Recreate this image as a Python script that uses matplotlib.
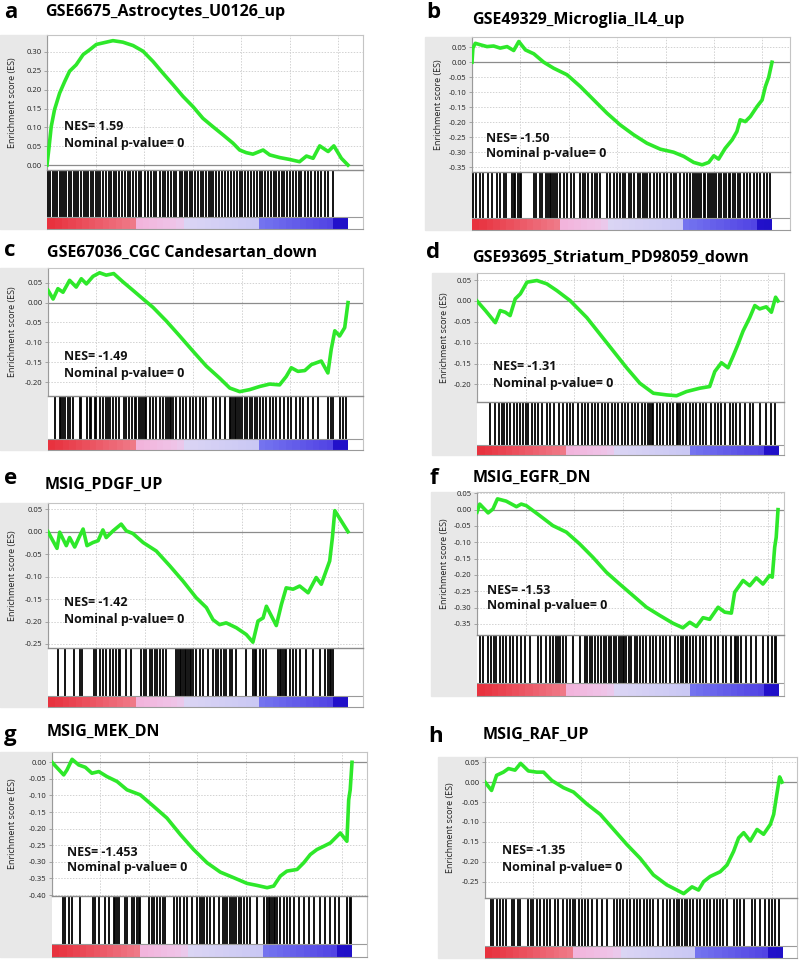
import numpy as np
import matplotlib
matplotlib.use('Agg')
import matplotlib.pyplot as plt
from matplotlib.colors import LinearSegmentedColormap
from matplotlib.patches import Rectangle
from matplotlib.ticker import MultipleLocator, FuncFormatter

W, H = 800, 961
N_GENES = 31000

letters = ['a', 'b', 'c', 'd', 'e', 'f', 'g', 'h']
titles = ['GSE6675_Astrocytes_U0126_up', 'GSE49329_Microglia_IL4_up',
          'GSE67036_CGC Candesartan_down', 'GSE93695_Striatum_PD98059_down',
          'MSIG_PDGF_UP', 'MSIG_EGFR_DN', 'MSIG_MEK_DN', 'MSIG_RAF_UP']
nes = ['1.59', '-1.50', '-1.49', '-1.31', '-1.42', '-1.53', '-1.453', '-1.35']

# running enrichment score: (percent of ranked list, ES)
es_a = [(0, 0.0), (0.7, 0.049), (1.4, 0.102), (2.5, 0.147), (4.2, 0.191), (5.9, 0.222),
        (7.5, 0.249), (9.7, 0.266), (12.0, 0.293), (14.2, 0.306), (16.4, 0.320), (18.6, 0.324),
        (21.9, 0.330), (25.2, 0.326), (28.6, 0.317), (31.9, 0.302), (35.2, 0.275), (38.5, 0.244),
        (41.9, 0.213), (45.2, 0.182), (48.5, 0.155), (51.8, 0.124), (55.1, 0.102), (58.5, 0.080),
        (61.8, 0.058), (64.0, 0.040), (66.2, 0.033), (68.4, 0.029), (71.8, 0.040), (74.0, 0.027),
        (77.3, 0.020), (80.6, 0.015), (83.9, 0.009), (86.2, 0.024), (88.4, 0.018), (90.6, 0.051),
        (93.4, 0.036), (95.3, 0.051), (97.8, 0.018), (100, 0.0)]
es_b = [(0, 0.0), (0.3, 0.047), (1.1, 0.063), (2.8, 0.058), (5.0, 0.052), (7.2, 0.054),
        (9.4, 0.047), (11.7, 0.052), (13.9, 0.039), (15.6, 0.069), (17.8, 0.041), (20.6, 0.028),
        (23.9, 0.0), (27.2, -0.020), (31.7, -0.042), (36.1, -0.081), (40.6, -0.126), (45.0, -0.170),
        (49.4, -0.209), (53.9, -0.242), (58.3, -0.270), (62.8, -0.290), (67.2, -0.300), (70.6, -0.314),
        (73.9, -0.334), (76.7, -0.342), (78.9, -0.334), (80.6, -0.312), (82.2, -0.323), (84.4, -0.287),
        (86.7, -0.259), (88.3, -0.231), (89.4, -0.192), (91.1, -0.198), (92.8, -0.181), (95.0, -0.148),
        (96.7, -0.126), (97.8, -0.081), (98.9, -0.050), (100, 0.0)]
es_c = [(0, 0.031), (1.7, 0.009), (3.3, 0.035), (5.0, 0.026), (7.2, 0.056), (9.4, 0.039),
        (11.1, 0.060), (12.8, 0.047), (15.0, 0.066), (17.2, 0.075), (19.4, 0.069), (21.9, 0.073),
        (25.0, 0.052), (28.3, 0.031), (31.7, 0.009), (35.0, -0.012), (39.4, -0.046), (43.9, -0.084),
        (48.3, -0.122), (52.8, -0.160), (57.2, -0.190), (60.6, -0.215), (63.9, -0.224), (67.2, -0.219),
        (70.6, -0.211), (73.9, -0.205), (77.2, -0.207), (79.4, -0.186), (81.1, -0.164), (83.3, -0.173),
        (85.6, -0.171), (87.8, -0.156), (91.1, -0.147), (93.3, -0.177), (94.4, -0.118), (95.6, -0.071),
        (97.2, -0.084), (98.9, -0.063), (100, 0.0)]
es_d = [(0, 0.0), (2.8, -0.023), (6.1, -0.052), (7.7, -0.023), (9.4, -0.027), (11.0, -0.035),
        (12.7, 0.005), (14.4, 0.017), (16.6, 0.045), (19.9, 0.049), (23.2, 0.041), (26.5, 0.025),
        (30.9, 0.001), (36.5, -0.040), (40.9, -0.080), (45.3, -0.120), (49.7, -0.160), (54.1, -0.197),
        (58.6, -0.221), (63.0, -0.225), (66.3, -0.227), (69.6, -0.217), (74.0, -0.209), (77.3, -0.205),
        (79.0, -0.169), (81.2, -0.148), (83.4, -0.160), (85.1, -0.132), (86.7, -0.104), (88.4, -0.072),
        (90.6, -0.040), (92.3, -0.011), (93.9, -0.019), (96.1, -0.014), (97.8, -0.027), (99.2, 0.009),
        (100, 0.0)]
es_e = [(0, 0.0), (3.0, -0.037), (3.9, -0.001), (6.1, -0.031), (7.2, -0.013), (8.9, -0.034),
        (10.6, -0.009), (11.7, 0.006), (13.0, -0.031), (15.0, -0.024), (16.7, -0.020), (18.3, 0.004),
        (19.4, -0.013), (21.7, 0.002), (24.4, 0.017), (26.1, 0.002), (28.3, -0.004), (31.7, -0.024),
        (36.1, -0.043), (40.6, -0.076), (45.0, -0.110), (49.4, -0.147), (52.8, -0.169), (55.0, -0.196),
        (57.2, -0.207), (59.4, -0.203), (62.8, -0.214), (66.1, -0.229), (68.3, -0.246), (70.0, -0.199),
        (71.7, -0.192), (72.8, -0.166), (76.1, -0.209), (77.8, -0.162), (79.4, -0.125), (81.7, -0.128),
        (83.9, -0.121), (86.7, -0.136), (89.4, -0.102), (91.1, -0.117), (93.9, -0.065), (94.8, -0.013),
        (95.6, 0.047), (100, 0.0)]
es_f = [(0, -0.008), (0.9, 0.017), (3.7, -0.010), (5.3, 0.002), (6.8, 0.033), (9.7, 0.026),
        (13.1, 0.009), (14.7, 0.017), (16.4, 0.012), (20.8, -0.018), (25.2, -0.049), (29.7, -0.069),
        (34.1, -0.105), (38.5, -0.146), (43.0, -0.192), (47.4, -0.228), (51.8, -0.263), (56.3, -0.299),
        (60.7, -0.324), (65.1, -0.348), (68.4, -0.362), (70.7, -0.345), (72.9, -0.358), (75.1, -0.331),
        (77.3, -0.336), (80.1, -0.299), (82.3, -0.314), (84.5, -0.317), (85.6, -0.253), (88.4, -0.217),
        (90.6, -0.233), (92.8, -0.209), (95.0, -0.228), (97.2, -0.202), (98.1, -0.207), (98.9, -0.115),
        (99.4, -0.085), (100, 0.0)]
es_g = [(0, 0.0), (3.9, -0.038), (5.0, -0.023), (6.7, 0.009), (8.9, -0.008), (11.1, -0.015),
        (13.3, -0.033), (15.6, -0.028), (18.3, -0.043), (21.7, -0.058), (25.0, -0.083), (29.4, -0.098),
        (33.9, -0.133), (38.3, -0.168), (42.8, -0.218), (47.2, -0.263), (51.7, -0.303), (56.1, -0.331),
        (60.6, -0.348), (65.0, -0.365), (68.3, -0.371), (71.7, -0.378), (73.9, -0.373), (76.1, -0.343),
        (78.3, -0.328), (81.7, -0.323), (83.9, -0.303), (86.1, -0.278), (88.3, -0.263), (90.6, -0.253),
        (92.8, -0.243), (96.1, -0.213), (98.3, -0.238), (98.9, -0.113), (99.4, -0.083), (100, 0.0)]
es_h = [(0, 0.0), (2.2, -0.021), (3.9, 0.017), (6.2, 0.025), (7.9, 0.034), (10.1, 0.030),
        (12.0, 0.047), (14.6, 0.028), (17.4, 0.025), (19.7, 0.025), (22.5, 0.004), (26.4, -0.014),
        (29.8, -0.025), (34.3, -0.055), (38.8, -0.081), (43.3, -0.119), (47.8, -0.157), (52.2, -0.191),
        (56.7, -0.233), (61.2, -0.258), (64.6, -0.271), (66.9, -0.280), (69.7, -0.263), (71.9, -0.271),
        (73.6, -0.250), (75.8, -0.237), (79.2, -0.225), (81.5, -0.208), (83.7, -0.174), (85.4, -0.140),
        (87.1, -0.127), (89.3, -0.148), (91.6, -0.119), (93.8, -0.131), (96.1, -0.106), (97.2, -0.081),
        (98.1, -0.038), (99.2, 0.013), (100, 0.0)]

# gene set hits (percent of ranked list)
hits_a = [0.3, 1.1, 2.0, 2.5, 3.3, 4.2, 5.0, 5.6, 6.4, 7.2, 7.9, 8.9, 9.5, 10.4, 11.4, 12.2, 12.8,
          13.6, 14.5, 15.3, 16.4, 17.1, 17.7, 18.6, 19.5, 20.5, 21.4, 22.1, 23.0, 23.9, 24.9, 25.8,
          26.9, 27.7, 28.6, 29.7, 30.6, 31.3, 32.7, 33.5, 34.6, 35.4, 36.3, 37.4, 38.5, 39.3, 40.2,
          41.3, 42.1, 43.0, 44.1, 45.0, 45.7, 46.6, 47.4, 48.3, 49.1, 50.2, 51.1, 51.8, 52.7, 53.7,
          54.4, 55.1, 56.2, 57.1, 58.2, 59.0, 60.1, 61.2, 62.1, 63.1, 64.0, 64.9, 65.9, 66.8, 67.9,
          68.8, 69.8, 70.7, 71.5, 72.5, 73.4, 74.3, 75.3, 76.2, 77.1, 78.1, 78.9, 79.8, 80.6, 81.7,
          82.6, 83.6, 84.5, 85.6, 86.7, 87.8, 88.9, 90.0, 91.1, 92.2, 93.4, 95.0]
hits_b = [0.3, 1.4, 2.8, 3.7, 5.2, 6.7, 8.3, 9.4, 10.6, 11.4, 13.3, 13.9, 14.4, 15.2, 15.9, 16.3,
          20.6, 21.4, 22.6, 23.3, 24.8, 25.2, 25.9, 26.3, 27.0, 27.8, 28.3, 29.2, 30.6, 31.7, 33.0,
          33.9, 36.1, 37.0, 37.8, 38.6, 40.0, 40.9, 41.7, 42.8, 45.0, 46.1, 47.2, 48.3, 49.4, 50.3,
          51.1, 52.2, 53.0, 53.9, 55.2, 56.1, 57.0, 57.8, 58.3, 59.2, 60.6, 61.7, 62.8, 63.9, 65.0,
          66.3, 67.2, 68.1, 69.4, 70.8, 71.7, 72.8, 73.7, 74.4, 75.0, 75.6, 76.3, 77.2, 77.8, 78.6,
          79.4, 80.0, 80.6, 81.4, 82.2, 83.0, 83.9, 84.7, 85.6, 86.1, 87.0, 87.8, 88.6, 89.4, 90.6,
          91.7, 92.8, 93.9, 95.0, 96.1, 97.2, 98.3, 99.4]
hits_c = [2.2, 3.9, 4.4, 5.0, 5.6, 6.7, 7.2, 8.3, 10.6, 11.1, 13.0, 13.9, 14.4, 15.6, 16.1, 17.2,
          18.3, 19.2, 20.0, 20.8, 21.7, 22.6, 23.7, 25.2, 26.1, 27.0, 28.1, 28.9, 29.4, 30.3, 31.1,
          31.7, 32.2, 32.8, 33.9, 35.0, 36.1, 37.2, 38.3, 39.4, 40.0, 40.6, 41.1, 41.7, 42.8, 43.9,
          45.0, 46.1, 47.2, 48.3, 49.4, 50.6, 51.7, 52.8, 55.0, 56.1, 57.2, 58.9, 60.6, 61.1, 61.7,
          62.2, 62.8, 63.3, 63.9, 64.8, 65.6, 66.3, 67.2, 68.1, 68.9, 69.7, 70.6, 71.7, 72.8, 73.9,
          75.0, 76.1, 77.2, 78.6, 80.0, 81.1, 82.8, 83.9, 85.0, 86.7, 88.3, 90.0, 93.3, 94.4, 95.0,
          97.2, 98.3, 99.4]
hits_d = [4.2, 6.1, 7.2, 8.3, 9.1, 9.9, 11.0, 12.2, 13.3, 14.4, 15.2, 16.4, 17.1, 18.2, 19.3, 20.4,
          21.5, 23.2, 24.3, 25.6, 27.1, 28.7, 29.8, 30.9, 32.0, 33.7, 34.8, 35.9, 37.0, 38.1, 39.2,
          40.3, 41.4, 42.5, 43.6, 44.8, 45.9, 47.0, 48.1, 49.2, 50.3, 51.4, 52.5, 53.6, 54.7, 55.8,
          56.9, 57.5, 58.0, 58.6, 59.7, 60.8, 61.9, 63.0, 64.1, 65.2, 66.3, 66.9, 67.4, 68.5, 69.6,
          70.7, 71.8, 72.9, 74.0, 75.1, 76.2, 77.9, 79.0, 80.1, 81.2, 82.3, 84.0, 85.1, 86.2, 87.3,
          89.0, 90.6, 91.7, 93.9, 96.1, 97.8, 98.9]
hits_e = [3.3, 5.6, 8.6, 10.6, 11.4, 15.2, 16.1, 17.2, 18.3, 19.2, 20.6, 21.7, 22.8, 23.7, 24.1,
          26.1, 27.8, 31.1, 31.9, 32.8, 33.9, 34.8, 35.6, 36.3, 37.2, 38.3, 39.4, 42.8, 43.3, 43.9,
          44.4, 45.0, 45.6, 46.1, 46.7, 47.2, 47.8, 48.3, 49.4, 50.6, 51.7, 53.3, 55.0, 55.9, 56.7,
          57.8, 58.6, 59.4, 60.6, 61.4, 62.8, 66.1, 68.3, 68.9, 69.4, 70.6, 71.7, 72.8, 76.7, 77.2,
          77.8, 78.3, 78.9, 79.4, 80.6, 81.7, 82.8, 83.9, 86.1, 88.3, 90.6, 92.2, 93.3, 93.9, 94.4,
          95.0]
hits_f = [0.9, 2.0, 3.7, 4.8, 5.5, 6.4, 7.5, 8.6, 9.7, 10.9, 12.0, 13.3, 14.7, 15.8, 17.5, 20.3,
          21.4, 23.0, 24.1, 25.2, 26.1, 26.9, 27.5, 28.6, 29.7, 31.9, 34.1, 35.8, 36.5, 37.4, 38.3,
          39.1, 40.2, 41.3, 42.1, 43.0, 43.9, 44.6, 45.4, 46.3, 47.2, 47.9, 48.5, 49.0, 49.6, 50.5,
          51.3, 52.4, 53.2, 54.0, 55.2, 56.3, 57.4, 58.5, 59.6, 60.7, 61.8, 62.9, 64.2, 65.7, 66.8,
          67.9, 68.4, 69.3, 69.8, 70.7, 71.8, 72.9, 74.0, 75.1, 76.2, 77.9, 79.0, 80.1, 81.7, 82.8,
          84.5, 85.6, 86.2, 86.7, 87.8, 89.5, 91.1, 92.8, 95.0, 96.7, 98.1, 98.9, 99.4]
hits_g = [3.7, 4.4, 5.6, 6.7, 9.4, 13.7, 14.4, 15.6, 17.8, 18.9, 20.6, 21.1, 21.7, 22.2, 24.4,
          25.0, 26.7, 27.2, 28.3, 28.9, 29.2, 32.2, 33.3, 34.1, 35.0, 36.1, 37.0, 37.8, 40.6, 41.7,
          42.8, 43.9, 45.0, 46.7, 48.3, 49.2, 50.0, 50.8, 51.7, 52.8, 53.9, 55.6, 57.0, 57.8, 58.3,
          59.2, 60.0, 60.6, 61.4, 62.2, 63.0, 63.9, 65.0, 66.1, 68.3, 70.6, 71.7, 72.2, 72.8, 73.3,
          73.9, 74.4, 75.0, 76.1, 77.2, 78.3, 79.4, 80.6, 82.2, 83.9, 85.6, 87.2, 89.4, 91.1, 92.8,
          94.4, 95.6, 98.3, 99.2, 99.8]
hits_h = [1.9, 2.8, 3.9, 5.1, 6.2, 7.1, 9.0, 9.6, 11.2, 11.8, 14.6, 15.4, 16.3, 17.4, 18.5, 19.7,
          20.8, 21.9, 23.6, 24.7, 26.4, 27.5, 28.7, 29.6, 30.3, 31.5, 32.6, 33.7, 34.8, 35.9, 37.6,
          39.3, 41.0, 43.3, 44.4, 45.5, 46.6, 47.8, 48.9, 50.0, 51.1, 52.2, 53.4, 54.5, 55.6, 56.7,
          58.4, 60.1, 61.2, 62.4, 63.5, 64.6, 65.2, 66.3, 67.4, 68.0, 69.1, 70.2, 71.3, 72.5, 73.6,
          74.7, 75.8, 77.0, 78.1, 79.2, 80.3, 81.5, 83.7, 84.8, 86.0, 87.1, 89.9, 91.0, 92.7, 94.4,
          95.5, 96.6, 97.8, 98.9]

ylims = [(-0.013, 0.345), (-0.366, 0.084), (-0.235, 0.087), (-0.242, 0.067),
         (-0.259, 0.064), (-0.384, 0.054), (-0.403, 0.031), (-0.291, 0.063)]

# ranked list colour strip (position, colour)
strip_stops = [(0.0, '#e8323e'), (0.28, '#f07a88'), (0.30, '#f3b4dc'), (0.44, '#efc6ea'),
               (0.45, '#dcd6f4'), (0.70, '#cac8f4'), (0.71, '#7676f0'), (0.955, '#5244e4'),
               (0.96, '#2410cc'), (1.0, '#2010c8')]

# panel geometry in pixels: gray_left, left, top, es_bottom, strip_top, bottom, right, data_end
geom = [(0, 47, 35, 170, 217, 229, 363, 348),
        (425, 472, 37, 172, 218, 230, 790, 772),
        (0, 48, 268, 396, 439, 450, 363, 348),
        (432, 477, 273, 402, 445, 455, 784, 778),
        (0, 48, 503, 648, 696, 707, 363, 348),
        (431, 477, 492, 635, 683, 696, 784, 778),
        (0, 52, 752, 896, 944, 957, 367, 352),
        (438, 485, 757, 898, 946, 958, 797, 782)]
label_pos = [(4, 12, 45, 12), (426, 12, 472, 20), (4, 251, 47, 253), (426, 252, 472, 258),
             (4, 478, 45, 485), (430, 478, 473, 478), (4, 736, 47, 732), (428, 736, 483, 735)]
nes_pos = [(64, 127), (486, 138), (64, 357), (493, 367), (64, 603), (487, 590), (67, 852), (502, 851)]

es_all = [es_a, es_b, es_c, es_d, es_e, es_f, es_g, es_h]
hits_all = [hits_a, hits_b, hits_c, hits_d, hits_e, hits_f, hits_g, hits_h]

plt.rcParams['font.family'] = ['Open Sans', 'DejaVu Sans']
strip_cmap = LinearSegmentedColormap.from_list('rank', strip_stops, N=44)
GREEN = '#2ee82a'


def fx(px):
    return px / W


def fy(py):
    return 1 - py / H


def es_fmt(v, pos):
    return '0.00' if abs(v) < 1e-9 else f'{v:.2f}'


fig = plt.figure(figsize=(W / 100, H / 100), dpi=100)

for i in range(8):
    gl, left, top, es_bot, st_top, bot, right, dend = geom[i]
    xmax = N_GENES * (right - left) / (dend - left)

    fig.patches.append(Rectangle((fx(gl), fy(bot)), fx(left - gl), (bot - top) / H,
                                 transform=fig.transFigure, color='#e8e8e8', zorder=-5))

    # enrichment score plot
    ax = fig.add_axes([fx(left), fy(es_bot), fx(right - left), (es_bot - top) / H])
    ax.set_zorder(2)
    ax.patch.set_alpha(0)
    x, y = zip(*es_all[i])
    x = np.array(x) / 100 * N_GENES
    ax.plot(x, y, color=GREEN, lw=2.6, solid_joinstyle='round', zorder=3)
    ax.axhline(0, color='#8c8c8c', lw=0.9, zorder=2)
    ax.set_xlim(0, xmax)
    ax.set_ylim(*ylims[i])
    ax.xaxis.set_major_locator(MultipleLocator(5000))
    ax.yaxis.set_major_locator(MultipleLocator(0.05))
    ax.yaxis.set_major_formatter(FuncFormatter(es_fmt))
    ax.grid(True, color='#d2d2d2', ls=(0, (1.5, 1.5)), lw=0.7)
    ax.set_xticklabels([])
    ax.tick_params(axis='x', length=0)
    ax.tick_params(axis='y', length=2, width=0.6, color='#999999', labelsize=5.5,
                   labelcolor='#222222', pad=2)
    for s in ['top', 'right']:
        ax.spines[s].set_color('#c4c4c4')
        ax.spines[s].set_linewidth(0.8)
    ax.spines['left'].set_color('#9a9a9a')
    ax.spines['bottom'].set_color('#8c8c8c')
    ax.spines['left'].set_linewidth(0.8)
    ax.spines['bottom'].set_linewidth(1.0)

    fig.text(fx(gl + 13), fy((top + es_bot) / 2), 'Enrichment score (ES)', rotation=90,
             ha='center', va='center', fontsize=6.5, color='#222222')

    fig.text(fx(nes_pos[i][0]), fy(nes_pos[i][1]), f'NES= {nes[i]}', fontsize=9,
             fontweight='bold', ha='left', va='center', color='#111111')
    fig.text(fx(nes_pos[i][0]), fy(nes_pos[i][1] + 16), 'Nominal p-value= 0', fontsize=9,
             fontweight='bold', ha='left', va='center', color='#111111')

    # hits and ranked list strip
    hx = fig.add_axes([fx(left), fy(bot), fx(right - left), (bot - es_bot) / H])
    f = (bot - st_top) / (bot - es_bot)
    hx.vlines(np.array(hits_all[i]) / 100 * N_GENES, f, 1, color='black', lw=1.3)
    hx.imshow(np.linspace(0, 1, 200)[None, :], cmap=strip_cmap, aspect='auto',
              extent=[0, N_GENES, 0, f], interpolation='nearest', zorder=1)
    hx.axhline(f, color='#9a9a9a', lw=0.8, zorder=2)
    hx.set_xlim(0, xmax)
    hx.set_ylim(0, 1)
    hx.set_xticks([])
    hx.set_yticks([])
    hx.spines['left'].set_visible(False)
    hx.spines['top'].set_visible(False)
    hx.spines['right'].set_color('#c4c4c4')
    hx.spines['right'].set_linewidth(0.8)
    hx.spines['bottom'].set_color('#9a9a9a')
    hx.spines['bottom'].set_linewidth(0.8)

    lx, ly, tx, ty = label_pos[i]
    fig.text(fx(lx), fy(ly), letters[i], fontsize=16, fontweight='bold', ha='left',
             va='center', color='black')
    fig.text(fx(tx), fy(ty), titles[i], fontsize=11.5, fontweight='bold', ha='left',
             va='center', color='black')

fig.savefig('out.png', dpi=100, facecolor='white')
